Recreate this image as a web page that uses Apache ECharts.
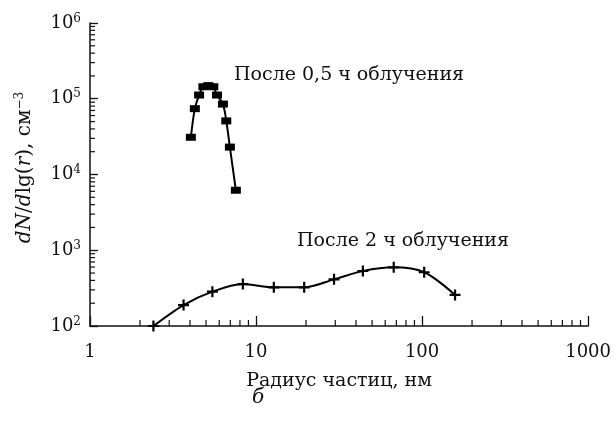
<!DOCTYPE html>
<html>
<head>
<meta charset="utf-8">
<script src="https://cdn.jsdelivr.net/npm/echarts@6/dist/echarts.min.js"></script>
<style>
  html, body { margin: 0; padding: 0; background: #fff; }
  #chart { width: 614px; height: 426px; }
</style>
</head>
<body>
<div id="chart"></div>
<script>
    // данные
    const radius05 = [4.05, 4.28, 4.54, 4.82, 5.16, 5.53, 5.82, 6.32, 6.62, 6.96, 7.56];
    const conc05 = [31000, 74000, 112000, 144000, 149000, 144000, 112000, 85000, 51000, 23000, 6200];
    const radius2 = [2.41, 3.66, 5.46, 8.33, 12.8, 19.5, 29.5, 44, 67.5, 103, 158];
    const conc2 = [100, 189, 284, 358, 324, 324, 413, 532, 596, 512, 257];
    const label05 = 'После 0,5 ч облучения';
    const label2 = 'После 2 ч облучения';

    const serif = '"DejaVu Serif", "Liberation Serif", serif';
    const fs = 19;

    // мелкие деления 2..9 на каждой декаде
    const minorX = [], minorY = [];
    [1, 10, 100].forEach(function (d) {
        for (let k = 2; k <= 9; k++) minorX.push([d * k, 0]);
    });
    [100, 1000, 10000, 100000].forEach(function (d) {
        for (let k = 2; k <= 9; k++) minorY.push([d * k, 1]);
    });

    const chart = echarts.init(document.getElementById('chart'));
    chart.setOption({
        backgroundColor: '#ffffff',
        animation: false,
        grid: { left: 90, right: 22, top: 23, bottom: 100 },
        xAxis: {
            type: 'log', logBase: 10, min: 1, max: 1000,
            name: 'Радиус частиц, нм',
            nameLocation: 'middle', nameGap: 46,
            nameTextStyle: { fontFamily: serif, fontSize: fs, color: '#111' },
            axisLine: { lineStyle: { color: '#111', width: 1.5 } },
            axisTick: { inside: true, length: 10, lineStyle: { color: '#111', width: 1.3 } },
            axisLabel: {
                fontFamily: serif, fontSize: 18, color: '#111', margin: 17,
                formatter: function (v) { return String(v); }
            },
            splitLine: { show: false }
        },
        yAxis: {
            type: 'log', logBase: 10, min: 100, max: 1000000,
            name: '{i|dN}/{i|d}lg({i|r}), см{sup|−3}',
            nameLocation: 'middle', nameGap: 54,
            nameTextStyle: {
                fontFamily: serif, fontSize: 20, color: '#111',
                padding: [0, 0, 0, 14],
                rich: {
                    i: { fontFamily: serif, fontSize: 20, fontStyle: 'italic', color: '#111' },
                    sup: { fontFamily: serif, fontSize: 12, color: '#111', padding: [0, 0, 10, 0] }
                }
            },
            axisLine: { lineStyle: { color: '#111', width: 1.5 } },
            axisTick: { inside: true, length: 8, lineStyle: { color: '#111', width: 1.3 } },
            axisLabel: {
                margin: 9,
                formatter: function (v) {
                    return '{b|10}{sup|' + Math.round(Math.log10(v)) + '}';
                },
                rich: {
                    b: { fontFamily: serif, fontSize: 18, color: '#111' },
                    sup: { fontFamily: serif, fontSize: 12, color: '#111', padding: [0, 0, 9, 0] }
                }
            },
            splitLine: { show: false }
        },
        graphic: [
            { type: 'text', left: 234, top: 66, style: { text: label05, font: fs + 'px ' + serif, fill: '#111' } },
            { type: 'text', left: 297, top: 232, style: { text: label2, font: fs + 'px ' + serif, fill: '#111' } },
            { type: 'text', left: 252, top: 388, style: { text: 'б', font: 'italic 20px ' + serif, fill: '#111' } }
        ],
        series: [
            {
                type: 'custom',
                silent: true,
                clip: false,
                coordinateSystem: 'cartesian2d',
                data: minorX.concat(minorY),
                encode: { x: 0, y: 0 },
                renderItem: function (params, api) {
                    const v = api.value(0), axis = api.value(1);
                    let p, shape;
                    if (axis === 0) {
                        p = api.coord([v, 100]);
                        shape = { x1: p[0], y1: p[1], x2: p[0], y2: p[1] - 6 };
                    } else {
                        p = api.coord([1, v]);
                        shape = { x1: p[0], y1: p[1], x2: p[0] + 5, y2: p[1] };
                    }
                    return { type: 'line', shape: shape, style: { stroke: '#111', lineWidth: 1.2 } };
                }
            },
            {
                name: label05,
                type: 'line',
                smooth: 0.3,
                data: radius05.map(function (r, i) { return [r, conc05[i]]; }),
                symbol: 'rect',
                symbolSize: [10, 7],
                itemStyle: { color: '#000' },
                lineStyle: { color: '#000', width: 2 },
                z: 3
            },
            {
                name: label2,
                type: 'line',
                smooth: 0.3,
                data: radius2.map(function (r, i) { return [r, conc2[i]]; }),
                symbol: 'path://M4,0 L6,0 L6,4 L10,4 L10,6 L6,6 L6,10 L4,10 L4,6 L0,6 L0,4 L4,4 Z',
                symbolSize: 11,
                itemStyle: { color: '#000' },
                lineStyle: { color: '#000', width: 2 },
                z: 3
            }
        ]
    });
</script>
</body>
</html>
